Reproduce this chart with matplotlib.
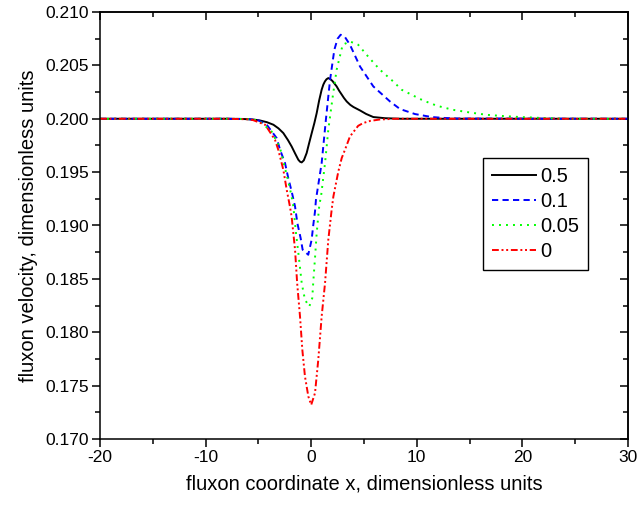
import matplotlib
matplotlib.use("Agg")
import matplotlib.pyplot as plt
from matplotlib.ticker import MultipleLocator, FormatStrFormatter

plt.rcParams["font.family"] = ["Liberation Sans", "DejaVu Sans"]
plt.rcParams["axes.unicode_minus"] = False

# ---------------------------------------------------------------------------
# Data
# ---------------------------------------------------------------------------
labels = ["0.5", "0.1", "0.05", "0"]

x_05 = [-20, -8, -6.5, -5.5, -4.85, -4.2, -3.58, -3.1, -2.64, -2.2, -1.85, -1.5,
        -1.22, -1.05, -0.9, -0.7, -0.43, -0.2, 0.05, 0.3, 0.52, 0.75, 0.99, 1.15,
        1.3, 1.45, 1.62, 1.8, 2.0, 2.2, 2.41, 2.65, 2.9, 3.1, 3.36, 3.7, 4.0, 4.62,
        5.2, 5.88, 7.0, 8.5, 30]
y_05 = [0.2, 0.2, 0.19998, 0.19993, 0.19984, 0.19968, 0.19944, 0.19910, 0.19866,
        0.19800, 0.19740, 0.19670, 0.19616, 0.19597, 0.19591, 0.19610, 0.19679,
        0.19770, 0.19866, 0.19960, 0.20053, 0.20170, 0.20272, 0.20320, 0.20350,
        0.20370, 0.20381, 0.20372, 0.20355, 0.20330, 0.20303, 0.20262, 0.20225,
        0.20195, 0.20162, 0.20130, 0.20110, 0.20078, 0.20045, 0.20016, 0.20005,
        0.2, 0.2]

x_01 = [-20, -8, -6, -5, -4.21, -3.27, -2.95, -2.48, -2.17, -1.85, -1.53, -1.31,
        -1.0, -0.81, -0.28, 0.04, 0.2, 0.36, 0.45, 0.99, 1.4, 1.78, 2.19, 2.5,
        2.79, 3.2, 3.67, 4.62, 5.88, 7.46, 8.41, 9.83, 11.41, 12.67, 14, 30]
y_01 = [0.2, 0.2, 0.19997, 0.19985, 0.19944, 0.19819, 0.19710, 0.19585, 0.19444,
        0.19319, 0.19178, 0.19022, 0.18882, 0.18773, 0.18726, 0.18866, 0.19007,
        0.19131, 0.19241, 0.19585, 0.20000, 0.20360, 0.20646, 0.20750, 0.20787,
        0.20765, 0.20693, 0.20490, 0.20303, 0.20162, 0.20091, 0.20044, 0.20016,
        0.20007, 0.20002, 0.2]

x_005 = [-20, -8, -6, -5, -3.75, -2.95, -2.64, -2.17, -1.85, -1.69, -1.44, -1.16,
         -0.9, -0.59, -0.18, 0.1, 0.2, 0.36, 0.52, 0.77, 0.93, 1.31, 1.62, 2.04,
         2.41, 2.98, 3.67, 4.45, 5.5, 6.51, 7.77, 8.56, 9.51, 10.3, 11.08, 11.9,
         13.4, 15.0, 16.6, 18.2, 19.8, 21.9, 24, 30]
y_005 = [0.2, 0.2, 0.19997, 0.19985, 0.19881, 0.19725, 0.19600, 0.19413, 0.19272,
         0.19178, 0.18929, 0.18695, 0.18461, 0.18304, 0.18241, 0.18320, 0.18476,
         0.18695, 0.18929, 0.19194, 0.19272, 0.19585, 0.19897, 0.20209, 0.20459,
         0.20693, 0.20724, 0.20693, 0.20570, 0.20459, 0.20349, 0.20272, 0.20225,
         0.20185, 0.20153, 0.20122, 0.20084, 0.20059, 0.20037, 0.20025, 0.20016,
         0.20007, 0.2, 0.2]

x_0 = [-20, -8, -6, -5.5, -4.36, -3.43, -3.12, -2.64, -2.32, -2.0, -1.85, -1.53,
       -1.33, -1.06, -0.84, -0.59, -0.27, 0.0, 0.36, 0.67, 0.99, 1.31, 1.62, 1.94,
       2.1, 2.35, 2.57, 2.89, 3.2, 3.67, 4.45, 4.93, 5.6, 6.5, 8, 30]
y_0 = [0.2, 0.2, 0.19995, 0.19987, 0.19944, 0.19803, 0.19710, 0.19522, 0.19335,
       0.19170, 0.19080, 0.18773, 0.18460, 0.18148, 0.17836, 0.17585, 0.17398,
       0.17320, 0.17430, 0.17742, 0.18148, 0.18460, 0.18866, 0.19150, 0.19272,
       0.19397, 0.19506, 0.19632, 0.19710, 0.19834, 0.19934, 0.19960, 0.19980,
       0.19993, 0.2, 0.2]

# ---------------------------------------------------------------------------
# Styles
# ---------------------------------------------------------------------------
STYLES = [
    dict(color="black", linestyle="-"),
    dict(color="#0000ff", linestyle=(0, (3.2, 2.2))),
    dict(color="#00ff00", linestyle=(0, (1.0, 2.6))),
    dict(color="#ff0000", linestyle=(0, (3.5, 1.4, 1.0, 1.4, 1.0, 1.4))),
]


def main() -> None:
    fig = plt.figure(figsize=(6.37, 5.05), dpi=100)
    ax = fig.add_axes([100 / 637, 1 - 439 / 505, 528 / 637, 427 / 505])

    series = [(x_05, y_05), (x_01, y_01), (x_005, y_005), (x_0, y_0)]
    for (xs, ys), lab, st in zip(series, labels, STYLES):
        ax.plot(xs, ys, linewidth=1.4, label=lab, **st)

    ax.set_xlim(-20, 30)
    ax.set_ylim(0.170, 0.210)
    ax.xaxis.set_major_locator(MultipleLocator(10))
    ax.xaxis.set_minor_locator(MultipleLocator(5))
    ax.yaxis.set_major_locator(MultipleLocator(0.005))
    ax.yaxis.set_minor_locator(MultipleLocator(0.0025))
    ax.yaxis.set_major_formatter(FormatStrFormatter("%.3f"))

    for sp in ax.spines.values():
        sp.set_linewidth(1.1)
    ax.tick_params(which="major", direction="out", length=6, width=1.1,
                   labelsize=12.5, pad=2)
    ax.tick_params(which="minor", direction="out", length=3.5, width=1.1)

    # inward ticks on top / right
    top = ax.secondary_xaxis("top")
    top.xaxis.set_major_locator(MultipleLocator(10))
    top.xaxis.set_minor_locator(MultipleLocator(5))
    top.tick_params(which="major", direction="in", length=6, width=1.1,
                    labeltop=False)
    top.tick_params(which="minor", direction="in", length=3.5, width=1.1)
    right = ax.secondary_yaxis("right")
    right.yaxis.set_major_locator(MultipleLocator(0.005))
    right.yaxis.set_minor_locator(MultipleLocator(0.0025))
    right.tick_params(which="major", direction="in", length=6, width=1.1,
                      labelright=False)
    right.tick_params(which="minor", direction="in", length=3.5, width=1.1)
    for sec in (top, right):
        for sp in sec.spines.values():
            sp.set_linewidth(1.1)

    ax.set_xlabel("fluxon coordinate x, dimensionless units", fontsize=14.5,
                  labelpad=7)
    ax.set_ylabel("fluxon velocity, dimensionless units", fontsize=14.5,
                  labelpad=5)

    leg = ax.legend(loc="upper left", bbox_to_anchor=(0.725, 0.658),
                    fontsize=14.5, frameon=True, fancybox=False, framealpha=1,
                    edgecolor="black", handlelength=2.2, handletextpad=0.2,
                    labelspacing=0.3, borderpad=0.45, borderaxespad=0)
    leg.get_frame().set_linewidth(1.0)

    fig.savefig("out.png", dpi=100)


if __name__ == "__main__":
    main()
